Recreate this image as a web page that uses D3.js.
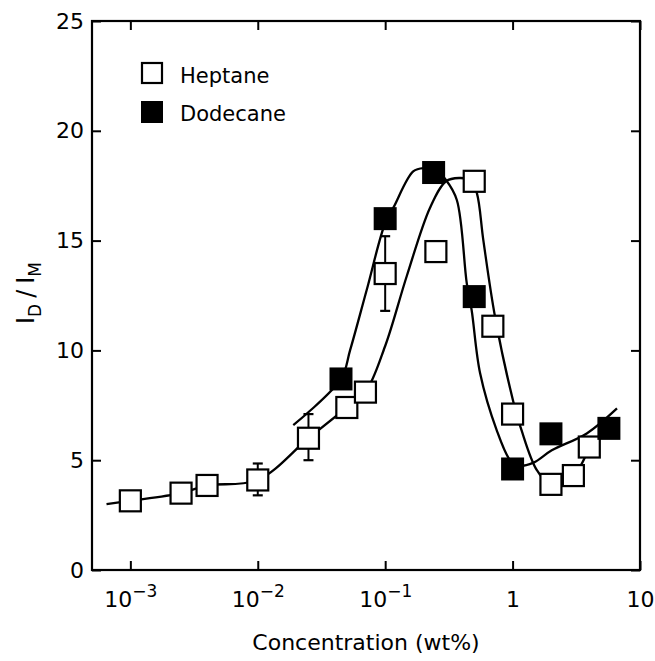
<!DOCTYPE html>
<html>
<head>
<meta charset="utf-8">
<script src="https://cdn.jsdelivr.net/npm/d3@7"></script>
<style>
  html, body { margin: 0; padding: 0; background: #fff; }
  svg { display: block; }
  text { font-family: "DejaVu Sans", sans-serif; fill: #000; }
</style>
</head>
<body>
<svg id="chart" width="655" height="661"></svg>
<script>
// ---- data ----
const heptaneX = [0.001, 0.0025, 0.004, 0.01, 0.025, 0.05, 0.07, 0.1, 0.25, 0.5, 0.7, 1.0, 2.0, 3.0, 4.0];
const heptaneY = [3.15, 3.5, 3.85, 4.1, 6.0, 7.4, 8.1, 13.5, 14.5, 17.7, 11.1, 7.1, 3.9, 4.3, 5.6];

const dodecaneX = [0.045, 0.1, 0.24, 0.5, 1.0, 2.0, 5.7];
const dodecaneY = [8.7, 16.0, 18.1, 12.45, 4.6, 6.2, 6.45];

// error bars (heptane)
const errX = [0.01, 0.025, 0.1];
const errLow = [3.4, 5.0, 11.8];
const errHigh = [4.85, 7.1, 15.2];

// fitted guide curves
const heptaneFitX = [0.00065, 0.001, 0.0025, 0.004, 0.01, 0.025, 0.05, 0.07, 0.1, 0.148, 0.225, 0.30, 0.38, 0.47, 0.525, 0.59, 0.73, 1.01, 1.17, 1.55, 2.0, 3.0, 4.0];
const heptaneFitY = [3.0, 3.15, 3.5, 3.85, 4.1, 6.0, 7.4, 8.1, 10.2, 13.4, 16.5, 17.7, 17.85, 17.75, 17.15, 15.0, 11.5, 7.7, 6.4, 4.55, 3.9, 4.3, 5.6];

const dodecaneFitX = [0.019, 0.045, 0.053, 0.0716, 0.1, 0.116, 0.166, 0.2, 0.25, 0.30, 0.365, 0.437, 0.477, 0.556, 0.75, 0.955, 1.1, 1.46, 2.03, 3.82, 6.6];
const dodecaneFitY = [6.6, 8.7, 10.0, 12.75, 15.8, 16.5, 18.15, 18.3, 18.2, 17.76, 16.85, 13.05, 11.84, 8.96, 6.37, 5.0, 4.75, 4.89, 5.45, 6.22, 7.36];

const xTicks = [1e-3, 1e-2, 1e-1, 1, 10];
const xTickLabels = [["10", "−3"], ["10", "−2"], ["10", "−1"], ["1", ""], ["10", ""]];
const yTicks = [0, 5, 10, 15, 20, 25];

const seriesNames = ["Heptane", "Dodecane"];
const xTitle = "Concentration (wt%)";

// ---- layout ----
const svg = d3.select("#chart");
const L = 92, R = 640, T = 21, B = 570;
const x = d3.scaleLog().domain([5e-4, 10]).range([L, R]);
const y = d3.scaleLinear().domain([0, 25]).range([B, T]);
const tick = 9;
const fs = 22;

// axes
const gB = svg.append("g").attr("transform", `translate(0,${B})`)
  .call(d3.axisBottom(x).tickValues(xTicks).tickSizeInner(-tick).tickSizeOuter(0).tickPadding(15).tickFormat(() => ""));
const gT = svg.append("g").attr("transform", `translate(0,${T})`)
  .call(d3.axisTop(x).tickValues(xTicks).tickSizeInner(-tick).tickSizeOuter(0).tickFormat(() => ""));
const gL = svg.append("g").attr("transform", `translate(${L},0)`)
  .call(d3.axisLeft(y).tickValues(yTicks).tickSizeInner(-tick).tickSizeOuter(0).tickPadding(8));
const gR = svg.append("g").attr("transform", `translate(${R},0)`)
  .call(d3.axisRight(y).tickValues(yTicks).tickSizeInner(-tick).tickSizeOuter(0).tickFormat(() => ""));

[gB, gT, gL, gR].forEach(g => {
  g.select(".domain").remove();
  g.selectAll(".tick line").attr("stroke", "#000").attr("stroke-width", 2);
});
gL.selectAll(".tick text").attr("font-size", fs).attr("font-family", "DejaVu Sans").attr("fill", "#000");

// x tick labels with superscripts
gB.selectAll(".tick").each(function(d, i) {
  const t = d3.select(this).append("text")
    .attr("y", 37).attr("text-anchor", "middle")
    .attr("font-size", fs).attr("fill", "#000");
  const lab = xTickLabels[i];
  t.append("tspan").text(lab[0]);
  if (lab[1]) {
    t.append("tspan").attr("dy", -10).attr("font-size", 17).text(lab[1]);
  }
});

// frame
svg.append("rect").attr("x", L).attr("y", T).attr("width", R - L).attr("height", B - T)
  .attr("fill", "none").attr("stroke", "#000").attr("stroke-width", 2.2);

// fit curves
const line = d3.line().x(d => x(d[0])).y(d => y(d[1])).curve(d3.curveCatmullRom.alpha(0.5));
svg.append("path").datum(heptaneFitX.map((v, i) => [v, heptaneFitY[i]]))
  .attr("d", line).attr("fill", "none").attr("stroke", "#000").attr("stroke-width", 2.3);
svg.append("path").datum(dodecaneFitX.map((v, i) => [v, dodecaneFitY[i]]))
  .attr("d", line).attr("fill", "none").attr("stroke", "#000").attr("stroke-width", 2.3);

// error bars
const cap = 5;
errX.forEach((v, i) => {
  const cx = x(v);
  svg.append("line").attr("x1", cx).attr("x2", cx).attr("y1", y(errLow[i])).attr("y2", y(errHigh[i]))
    .attr("stroke", "#000").attr("stroke-width", 2);
  [errLow[i], errHigh[i]].forEach(e => {
    svg.append("line").attr("x1", cx - cap).attr("x2", cx + cap).attr("y1", y(e)).attr("y2", y(e))
      .attr("stroke", "#000").attr("stroke-width", 2.2);
  });
});

// markers
const S = 21;
svg.append("g").selectAll("rect").data(heptaneX.map((v, i) => [v, heptaneY[i]])).join("rect")
  .attr("x", d => x(d[0]) - S / 2).attr("y", d => y(d[1]) - S / 2)
  .attr("width", S).attr("height", S)
  .attr("fill", "#fff").attr("stroke", "#000").attr("stroke-width", 2.2);
svg.append("g").selectAll("rect").data(dodecaneX.map((v, i) => [v, dodecaneY[i]])).join("rect")
  .attr("x", d => x(d[0]) - (S + 2) / 2).attr("y", d => y(d[1]) - (S + 2) / 2)
  .attr("width", S + 2).attr("height", S + 2)
  .attr("fill", "#000");

// legend
const lg = svg.append("g");
lg.append("rect").attr("x", 142).attr("y", 63).attr("width", 20).attr("height", 20)
  .attr("fill", "#fff").attr("stroke", "#000").attr("stroke-width", 2.2);
lg.append("rect").attr("x", 141).attr("y", 101).attr("width", 22).attr("height", 22).attr("fill", "#000");
lg.append("text").attr("x", 180).attr("y", 83).attr("font-size", 21).text(seriesNames[0]);
lg.append("text").attr("x", 180).attr("y", 121).attr("font-size", 21).text(seriesNames[1]);

// axis titles
svg.append("text").attr("x", (L + R) / 2).attr("y", 650).attr("text-anchor", "middle")
  .attr("font-size", fs).text(xTitle);

const yt = svg.append("text").attr("transform", `translate(34,293) rotate(-90)`)
  .attr("text-anchor", "middle").attr("font-size", 24);
yt.append("tspan").text("I");
yt.append("tspan").attr("dy", 7).attr("font-size", 17).text("D");
yt.append("tspan").attr("dy", -7).attr("dx", 6).text("/");
yt.append("tspan").attr("dx", 6).text("I");
yt.append("tspan").attr("dy", 7).attr("font-size", 17).text("M");
</script>
</body>
</html>
